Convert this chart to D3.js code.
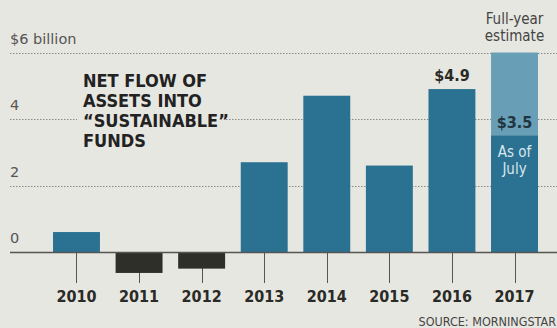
<!DOCTYPE html>
<html>
<head>
<meta charset="utf-8">
<script src="https://cdn.jsdelivr.net/npm/d3@7"></script>
<style>
  html, body { margin: 0; padding: 0; background: #e7e7e1; }
  svg { display: block; }
  .grid { stroke: #8a8a86; stroke-width: 1; stroke-dasharray: 1.5 1.5; }
  .ytick { font-family: "DejaVu Sans", sans-serif; font-size: 14.5px; fill: #555; }
  .year { font-family: "DejaVu Sans Condensed", "DejaVu Sans", sans-serif; font-weight: bold; font-size: 16px; fill: #2a2a26; }
  .title { font-family: "DejaVu Sans Condensed", "DejaVu Sans", sans-serif; font-weight: bold; font-size: 18px; fill: #222; }
  .note { font-family: "DejaVu Sans Condensed", "DejaVu Sans", sans-serif; font-size: 15px; }
  .value { font-family: "DejaVu Sans Condensed", "DejaVu Sans", sans-serif; font-size: 16px; font-weight: bold; }
</style>
</head>
<body>
<div class="chart"></div>
<script>
// -------------------------------------------------------------------------
// Data
const years = ['2010', '2011', '2012', '2013', '2014', '2015', '2016', '2017'];
const netFlow = [0.6, -0.63, -0.5, 2.7, 4.7, 2.6, 4.9, 3.5];
const fullYearEstimate = [null, null, null, null, null, null, null, 6.0];
const yTicks = [0, 2, 4, 6];
const yTickLabels = ['0', '2', '4', '$6 billion'];
const titleLines = ['NET FLOW OF', 'ASSETS INTO', '\u201CSUSTAINABLE\u201D', 'FUNDS'];

// -------------------------------------------------------------------------
// Layout
const width = 557;
const height = 328;
const axisBottom = 283;

const x = d3.scaleBand()
  .domain(years)
  .range([45.2, 545.8])
  .paddingInner(0.25)
  .paddingOuter(0.125);

const y = d3.scaleLinear()
  .domain([0, 6])
  .range([252, 52.5]);

const svg = d3.select('.chart')
  .append('svg')
  .attr('width', width)
  .attr('height', height);

// gridlines
svg.append('g')
  .selectAll('line')
  .data(yTicks.filter(d => d !== 0))
  .enter()
  .append('line')
  .attr('class', 'grid')
  .attr('x1', 10)
  .attr('x2', width)
  .attr('y1', d => Math.round(y(d)) + 0.5)
  .attr('y2', d => Math.round(y(d)) + 0.5);

// y labels
svg.append('g')
  .selectAll('text')
  .data(yTicks)
  .enter()
  .append('text')
  .attr('class', 'ytick')
  .attr('x', 10)
  .attr('y', d => y(d) - 9)
  .text((d, i) => yTickLabels[i]);

// title block with background to knock out the gridline
const titleGroup = svg.append('g').attr('id', 'title-group');
titleGroup.append('rect')
  .attr('x', 77)
  .attr('y', 68)
  .attr('width', 148)
  .attr('height', 84)
  .attr('fill', '#e7e7e1');
titleGroup.selectAll('text')
  .data(titleLines)
  .enter()
  .append('text')
  .attr('class', 'title')
  .attr('x', 83)
  .attr('y', (d, i) => 87 + i * 20)
  .text(d => d);

// full year estimate bar (lighter)
svg.append('g')
  .selectAll('rect')
  .data(years.map((yr, i) => ({ yr, v: fullYearEstimate[i] })).filter(d => d.v !== null))
  .enter()
  .append('rect')
  .attr('x', d => x(d.yr))
  .attr('width', x.bandwidth())
  .attr('y', d => y(d.v))
  .attr('height', d => y(0) - y(d.v))
  .attr('fill', '#689fb6');

// tick stems from baseline down to labels
svg.append('g')
  .selectAll('line')
  .data(years)
  .enter()
  .append('line')
  .attr('x1', d => Math.round(x(d) + x.bandwidth() / 2) + 0.5)
  .attr('x2', d => Math.round(x(d) + x.bandwidth() / 2) + 0.5)
  .attr('y1', y(0))
  .attr('y2', axisBottom)
  .attr('stroke', '#555')
  .attr('stroke-width', 1);

// main bars
svg.append('g')
  .selectAll('rect')
  .data(years.map((yr, i) => ({ yr, v: netFlow[i] })))
  .enter()
  .append('rect')
  .attr('x', d => x(d.yr))
  .attr('width', x.bandwidth())
  .attr('y', d => y(Math.max(0, d.v)))
  .attr('height', d => Math.abs(y(d.v) - y(0)))
  .attr('fill', d => d.v < 0 ? '#2f2f2a' : '#2b7191');

// baseline
svg.append('line')
  .attr('x1', 10)
  .attr('x2', width)
  .attr('y1', y(0) + 0.5)
  .attr('y2', y(0) + 0.5)
  .attr('stroke', '#555')
  .attr('stroke-width', 1.5);

// year labels
svg.append('g')
  .selectAll('text')
  .data(years)
  .enter()
  .append('text')
  .attr('class', 'year')
  .attr('x', d => x(d) + x.bandwidth() / 2)
  .attr('y', 302)
  .attr('text-anchor', 'middle')
  .text(d => d);

// value annotations
const cx = yr => x(yr) + x.bandwidth() / 2;
svg.append('text')
  .attr('class', 'value')
  .attr('x', cx('2016'))
  .attr('y', y(4.9) - 8)
  .attr('text-anchor', 'middle')
  .attr('fill', '#2a2a26')
  .text('$4.9');

svg.append('text')
  .attr('class', 'value')
  .attr('x', cx('2017'))
  .attr('y', y(3.5) - 8)
  .attr('text-anchor', 'middle')
  .attr('fill', '#1f3540')
  .text('$3.5');

svg.append('g')
  .selectAll('text')
  .data(['As of', 'July'])
  .enter()
  .append('text')
  .attr('class', 'note')
  .attr('x', cx('2017'))
  .attr('y', (d, i) => y(3.5) + 21 + i * 17)
  .attr('text-anchor', 'middle')
  .attr('fill', '#d8e6ec')
  .text(d => d);

svg.append('g')
  .selectAll('text')
  .data(['Full-year', 'estimate'])
  .enter()
  .append('text')
  .attr('class', 'note')
  .attr('x', cx('2017'))
  .attr('y', (d, i) => 24 + i * 17)
  .attr('text-anchor', 'middle')
  .attr('fill', '#444')
  .text(d => d);

// source
svg.append('text')
  .attr('x', 556)
  .attr('y', 326)
  .attr('text-anchor', 'end')
  .attr('font-family', '"DejaVu Sans Condensed", sans-serif')
  .attr('font-size', 12.5)
  .attr('fill', '#444')
  .text('SOURCE: MORNINGSTAR');
</script>
</body>
</html>
